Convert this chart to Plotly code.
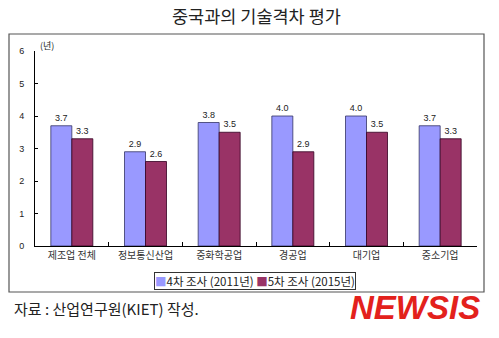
import plotly.graph_objects as go

categories = ["제조업 전체", "정보통신산업", "중화학공업", "경공업", "대기업", "중소기업"]
series_2011 = [3.7, 2.9, 3.8, 4.0, 4.0, 3.7]
series_2015 = [3.3, 2.6, 3.5, 2.9, 3.5, 3.3]
name_2011 = "4차 조사 (2011년)"
name_2015 = "5차 조사 (2015년)"
title = "중국과의 기술격차 평가"
source = "자료 : 산업연구원(KIET) 작성."

color_2011 = "#9999FF"
color_2015 = "#993366"
font_kr = "Noto Sans CJK KR"

fig = go.Figure()
fig.add_trace(go.Bar(
    x=categories, y=series_2011, name=name_2011,
    marker=dict(color=color_2011, line=dict(color="#333366", width=0.8)),
    text=[f"{v:.1f}" for v in series_2011], textposition="outside",
    textfont=dict(size=9, color="#222", family="Liberation Sans"), cliponaxis=False,
))
fig.add_trace(go.Bar(
    x=categories, y=series_2015, name=name_2015,
    marker=dict(color=color_2015, line=dict(color="#330022", width=0.8)),
    text=[f"{v:.1f}" for v in series_2015], textposition="outside",
    textfont=dict(size=9, color="#222", family="Liberation Sans"), cliponaxis=False,
))

fig.update_layout(
    width=499, height=338,
    margin=dict(l=35, r=22, t=51, b=92),
    paper_bgcolor="white", plot_bgcolor="white",
    barmode="group", bargap=0.43, bargroupgap=0,
    showlegend=False,
    xaxis=dict(type="category", showline=True, linecolor="black", linewidth=1,
               ticks="inside", ticklen=4, tickcolor="black", tickson="boundaries",
               tickfont=dict(size=10, family=font_kr, color="#333"), showgrid=False),
    yaxis=dict(range=[0, 6], dtick=1, showline=True, linecolor="black", linewidth=1,
               ticks="inside", ticklen=3, tickcolor="black", showgrid=False, zeroline=False,
               ticklabelstandoff=8,
               tickfont=dict(size=9, family="Liberation Sans", color="#222")),
    font=dict(family=font_kr),
)

# outer frame
fig.add_shape(type="rect", xref="paper", yref="paper",
              x0=-26/442, x1=(484-35)/442, y0=-(292-246)/195, y1=(246-34)/195,
              line=dict(color="#555", width=1.2), fillcolor="rgba(0,0,0,0)", layer="below")

# compact legend box
legend_text = (f"<span style='color:{color_2011}'>■</span>{name_2011} "
               f"<span style='color:{color_2015}'>■</span>{name_2015}")
fig.add_annotation(text=legend_text, xref="paper", yref="paper", x=(255-35)/442, y=(246-280.5)/195,
                   showarrow=False, font=dict(size=11.5, family=font_kr, color="#222"),
                   xanchor="center", yanchor="middle", bordercolor="#333", borderwidth=1,
                   borderpad=0, bgcolor="white")

fig.add_annotation(text=title, xref="paper", yref="paper", x=(256-35)/442, y=(246-16)/195,
                   showarrow=False, font=dict(size=17.5, family=font_kr, color="#222"),
                   xanchor="center", yanchor="middle")
fig.add_annotation(text="(년)", xref="paper", yref="paper", x=(38-35)/442, y=(246-45)/195,
                   showarrow=False, font=dict(size=9, family=font_kr, color="#222"),
                   xanchor="left", yanchor="middle")
fig.add_annotation(text=source, xref="paper", yref="paper", x=(12-35)/442, y=(246-308)/195,
                   showarrow=False, font=dict(size=15, family=font_kr, color="#222"),
                   xanchor="left", yanchor="middle")
fig.add_annotation(text="<b><i>NEWSIS</i></b>", xref="paper", yref="paper", x=(482-35)/442, y=(246-307)/195,
                   showarrow=False, font=dict(size=33, family="Liberation Sans", color="#e3211c"),
                   xanchor="right", yanchor="middle")

fig.write_html("out.html")
